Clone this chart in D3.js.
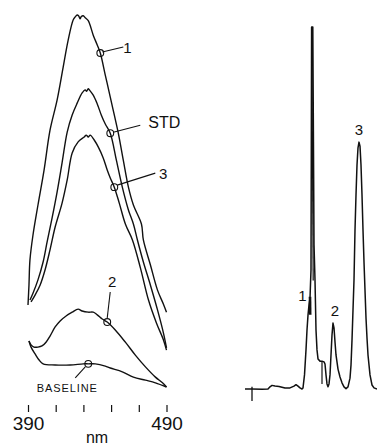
<!DOCTYPE html>
<html><head><meta charset="utf-8">
<script src="https://cdn.jsdelivr.net/npm/d3@7"></script>
<style>
html,body{margin:0;padding:0;background:#fff;}
svg{display:block;}
text{font-family:"Liberation Sans",Arial,sans-serif;fill:#111;}
</style></head>
<body>
<svg id="c" width="377" height="448"></svg>
<script>
// ---------- Left panel: excitation spectra (wavelength nm, relative intensity) ----------
const specTicks = [390, 410, 430, 450, 470, 490];
const specTickLabels = {390: "390", 490: "490"};
const specAxisTitle = "nm";

const curve1 = [[390,23.7],[390.7,28.9],[391.4,35.5],[393.6,42.1],[397.2,50],[401.6,59.2],[405.9,69.7],[411,77.6],[415.4,86.3],[419,93.4],[422.6,98.7],[424.1,99.5],[425.5,100],[426.5,99.8],[427.7,99.0],[428.5,99.6],[429.9,99.8],[431.3,99.3],[433.5,98.5],[437.1,94.7],[440,92.1],[442.2,90],[445.8,84.2],[449.4,78.4],[452.3,73.7],[455.2,68.9],[458.8,61.8],[462.5,54.7],[466.1,50],[471.9,45],[473.3,40.8],[478.4,34.2],[483.5,27.6],[487.8,23.9],[490,21.8]];
const curveSTD = [[391.4,25],[393.6,26.8],[397.2,30.3],[400.9,35],[403.8,40.3],[407.4,46.6],[411,53.4],[414.6,61.1],[418.3,69.2],[421.9,73.7],[425.5,76.8],[429.1,79.5],[431.3,80.3],[432.3,79.9],[433.5,80.6],[434.5,80.2],[437.1,78.9],[440,76.6],[442.9,73.7],[445.8,71.3],[449.4,68.9],[453.8,61.8],[458.1,54.7],[462.5,48.7],[466.1,45],[469,40.8],[473.3,35],[478.4,28.9],[483.5,22.4],[487.8,16.3],[490,12.4]];
const curve3 = [[392.2,24.5],[395.1,26.3],[398.7,28.9],[402.3,32.9],[405.9,38.2],[409.6,44.2],[414.6,50.5],[418.3,56.6],[421.9,63.7],[426.2,66.6],[430.6,67.9],[432,68.4],[433.5,67.9],[434.9,68.4],[437.8,67.1],[440.7,65.3],[444.3,62.4],[447.2,59.2],[449.4,57.1],[452.3,54.7],[455.9,50.5],[460.3,45],[465.4,40.8],[471.2,33.4],[477,25],[482.8,18.9],[487.8,14.5],[490,11.8]];
const curve2 = [[390.7,14.2],[392.2,13.2],[394.3,12.6],[397.2,12.6],[400.1,12.9],[403,13.9],[405.9,15.5],[409.6,17.9],[413.2,19.5],[417.5,20.8],[421.9,21.8],[426.2,22.6],[429.1,22.1],[433.5,21.8],[437.1,21.8],[440,21.1],[443.6,20],[447.2,19.2],[453,17.1],[460.3,13.9],[467.5,10.5],[474.8,7.4],[482,4.7],[487.1,3.2],[490,2.1]];
const curveBase = [[390.7,14.2],[392.2,12.6],[395.1,10.8],[398,9.2],[400.9,8.2],[409.6,7.9],[420.4,7.9],[429.9,8.2],[433.5,8.2],[438.6,8.2],[445.8,7.6],[449.4,7.1],[458.1,6.1],[466.1,4.7],[474.8,3.9],[482,3.2],[490,2.1]];

const specNames = ["1", "STD", "3", "2", "BASELINE"];
const specMarkers = [[442.2,90],[449.4,68.9],[452.3,54.7],[447.2,19.2],[433.5,8.2]];

// ---------- Right panel: chromatogram (time, detector response) ----------
const chromTrace = [[0,0],[0.7,0],[1.7,-0.1],[2.3,0],[2.5,0.6],[2.7,1],[3.0,0.8],[3.4,0.7],[4.0,0.3],[4.5,0.3],[4.9,0.8],[5.1,1.2],[5.3,0.8],[5.5,0.3],[5.7,0],[5.8,0.3],[5.95,3.9],[6.1,10.8],[6.2,16.3],[6.3,20.4],[6.4,23.2],[6.5,25.1],[6.6,32.9],[6.63,66],[6.66,100],[6.78,100],[6.85,66],[6.9,40],[7.0,30.1],[7.1,16.3],[7.2,10.8],[7.3,8.3],[7.5,7.7],[7.7,7.7],[7.9,7.5],[8.0,6.9],[8.1,3.9],[8.2,1.4],[8.3,0.6],[8.4,1.4],[8.5,3.9],[8.6,9.4],[8.7,14.9],[8.8,18.2],[8.9,16.9],[9.0,13],[9.1,9.4],[9.3,5.5],[9.5,3.3],[9.7,1.7],[9.9,0.6],[10.1,0.1],[10.3,0.6],[10.5,3],[10.6,6.6],[10.7,13.5],[10.8,21.8],[10.9,30.1],[11.0,43.9],[11.1,53.6],[11.2,61.9],[11.3,66.6],[11.4,68.2],[11.5,67.1],[11.6,61.9],[11.7,53.6],[11.8,43.9],[11.9,35.1],[12.0,27.3],[12.1,19.6],[12.2,14.1],[12.3,9.4],[12.5,3.9],[12.7,1.1],[12.9,0.3],[13.2,0]];
const chromPeakNames = ["1", "2", "3"];
const chromPeaks = [[6.55,27], [8.8,18.2], [11.4,68.2]];
const injectionTime = 0.7;
const artifactTime = 7.7;

// ---------- drawing ----------
const svg = d3.select("#c");

const xS = d3.scaleLinear().domain([390, 490]).range([28, 166.5]);
const yS = d3.scaleLinear().domain([0, 100]).range([395, 15]);
const xC = d3.scaleLinear().domain([0, 13.2]).range([245, 377]);
const yC = d3.scaleLinear().domain([0, 100]).range([389, 27]);

const specLine = d3.line().x(d => xS(d[0])).y(d => yS(d[1])).curve(d3.curveCatmullRom.alpha(0.5));
const chromLine = d3.line().x(d => xC(d[0])).y(d => yC(d[1]));

const ink = "#111";
const specSeries = [curve1, curveSTD, curve3, curve2, curveBase];
svg.append("g").selectAll("path").data(specSeries).join("path")
  .attr("d", specLine).attr("fill", "none").attr("stroke", ink)
  .attr("stroke-width", 1.4).attr("stroke-linejoin", "round");

const ann = [
  {lx1: 2, ly1: -1, lx2: 23, ly2: -6, tx: 27, ty: 0, size: 15, anchor: "middle"},
  {lx1: 3, ly1: -1, lx2: 30, ly2: -8, tx: 38, ty: -5, size: 16, anchor: "start"},
  {lx1: 3, ly1: -2, lx2: 41, ly2: -14, tx: 49, ty: -8, size: 15, anchor: "middle"},
  {lx1: 0, ly1: -4, lx2: 3, ly2: -30, tx: 5, ty: -35, size: 15, anchor: "middle"},
  {lx1: -3, ly1: 3, lx2: -13, ly2: 14, tx: -21, ty: 28, size: 11, anchor: "middle", ls: 0.9}
];
const mg = svg.append("g");
specMarkers.forEach((m, i) => {
  const cx = xS(m[0]), cy = yS(m[1]), a = ann[i];
  mg.append("circle").attr("cx", cx).attr("cy", cy).attr("r", 3.4)
    .attr("fill", "none").attr("stroke", ink).attr("stroke-width", 1.1);
  mg.append("line").attr("x1", cx + a.lx1).attr("y1", cy + a.ly1)
    .attr("x2", cx + a.lx2).attr("y2", cy + a.ly2)
    .attr("stroke", ink).attr("stroke-width", 1.1);
  mg.append("text").attr("x", cx + a.tx).attr("y", cy + a.ty)
    .attr("text-anchor", a.anchor).attr("font-size", a.size)
    .attr("letter-spacing", a.ls || 0).text(specNames[i]);
});

const axis = d3.axisBottom(xS).tickValues(specTicks)
  .tickFormat(d => specTickLabels[d] || "").tickSize(7).tickPadding(5);
const ax = svg.append("g").attr("transform", "translate(0,405)").call(axis);
ax.select(".domain").remove();
ax.selectAll(".tick line").attr("stroke", ink).attr("stroke-width", 1.2);
ax.selectAll(".tick text").attr("font-size", 19).attr("fill", ink)
  .attr("font-family", "Liberation Sans, Arial, sans-serif");
svg.append("text").attr("x", 97).attr("y", 443).attr("text-anchor", "middle")
  .attr("font-size", 16).text(specAxisTitle);

svg.append("path").datum(chromTrace).attr("d", chromLine)
  .attr("fill", "none").attr("stroke", ink).attr("stroke-width", 1.5)
  .attr("stroke-linejoin", "round");
svg.append("line").attr("x1", xC(injectionTime)).attr("x2", xC(injectionTime))
  .attr("y1", yC(0.6)).attr("y2", yC(-3.3)).attr("stroke", ink).attr("stroke-width", 1.3);
svg.append("line").attr("x1", xC(artifactTime)).attr("x2", xC(artifactTime))
  .attr("y1", yC(7.7)).attr("y2", yC(1.4)).attr("stroke", ink).attr("stroke-width", 1.2);
svg.append("line").attr("x1", xC(6.5)).attr("x2", xC(6.52))
  .attr("y1", yC(25.5)).attr("y2", yC(20.5)).attr("stroke", ink).attr("stroke-width", 2.6);
svg.append("line").attr("x1", xC(6.68)).attr("x2", xC(6.82))
  .attr("y1", yC(100)).attr("y2", yC(30)).attr("stroke", ink).attr("stroke-width", 1.2);

const peakLabelOffsets = [[-8, 10], [2, -7], [0, -7]];
chromPeaks.forEach((p, i) => {
  svg.append("text").attr("x", xC(p[0]) + peakLabelOffsets[i][0])
    .attr("y", yC(p[1]) + peakLabelOffsets[i][1])
    .attr("text-anchor", "middle").attr("font-size", 15).text(chromPeakNames[i]);
});
</script>
</body></html>
